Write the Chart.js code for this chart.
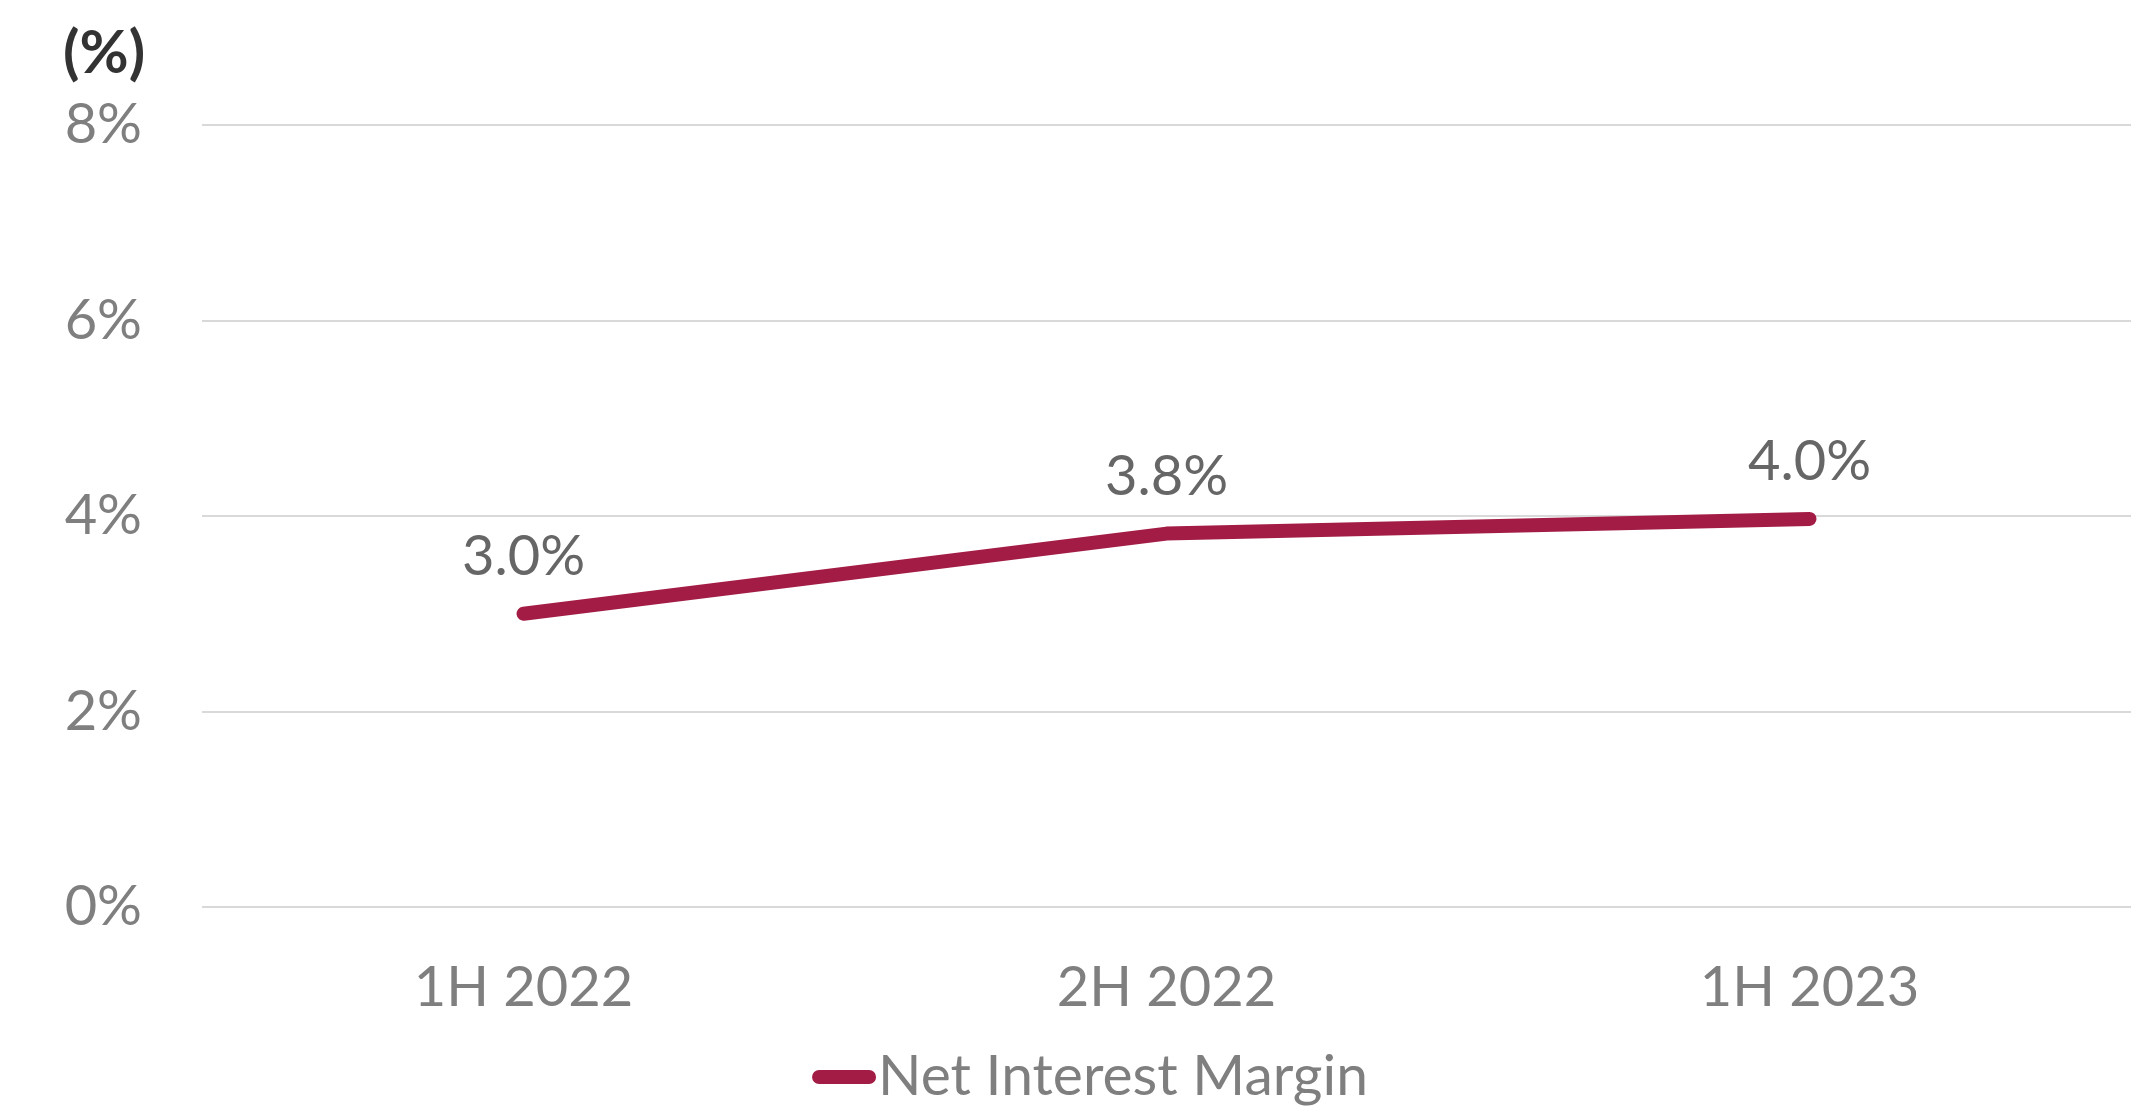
<!DOCTYPE html>
<html>
<head>
<meta charset="utf-8">
<script src="https://cdn.jsdelivr.net/npm/chart.js@4/dist/chart.umd.min.js"></script>
<style>
  html, body { margin: 0; padding: 0; background: #ffffff; }
  #wrap { width: 2152px; height: 1109px; }
</style>
</head>
<body>
<div id="wrap"><canvas id="c" width="2152" height="1109"></canvas></div>
<script>
const categories = ['1H 2022', '2H 2022', '1H 2023'];
const nimValues = [3.0, 3.82, 3.97];
const seriesLabel = 'Net Interest Margin';
const yTickValues = [0, 2, 4, 6, 8];
const unitLabel = '(%)';

const FONT = "Lato, 'Open Sans', sans-serif";
const LINE_COLOR = '#a31c45';

const dataLabelPlugin = {
  id: 'dataLabels',
  afterDatasetsDraw(chart) {
    const ctx = chart.ctx;
    const meta = chart.getDatasetMeta(0);
    ctx.save();
    ctx.font = '56px ' + FONT;
    ctx.fillStyle = '#666666';
    ctx.textAlign = 'center';
    ctx.textBaseline = 'middle';
    meta.data.forEach((pt, i) => {
      const v = chart.data.datasets[0].data[i];
      ctx.fillText(v.toFixed(1) + '%', pt.x, pt.y - 57);
    });
    ctx.restore();
  }
};

const extrasPlugin = {
  id: 'extras',
  afterDraw(chart) {
    const ctx = chart.ctx;
    ctx.save();
    // unit label
    ctx.font = 'bold 60px ' + FONT;
    ctx.fillStyle = '#333333';
    ctx.textAlign = 'left';
    ctx.textBaseline = 'middle';
    ctx.fillText(unitLabel, 63, 54);
    // legend
    const ds = chart.data.datasets[0];
    ctx.font = '57px ' + FONT;
    const tw = ctx.measureText(ds.label).width;
    const sampleW = 64, gap = 2;
    const total = sampleW + gap + tw;
    const cx = 1090;
    const x0 = cx - total / 2;
    const y = 1077;
    ctx.strokeStyle = ds.borderColor;
    ctx.lineWidth = 14;
    ctx.lineCap = 'round';
    ctx.beginPath();
    ctx.moveTo(x0 + 7, y);
    ctx.lineTo(x0 + sampleW - 7, y);
    ctx.stroke();
    ctx.fillStyle = '#7f7f7f';
    ctx.fillText(ds.label, x0 + sampleW + gap, y);
    ctx.restore();
  }
};

new Chart(document.getElementById('c'), {
  type: 'line',
  data: {
    labels: categories,
    datasets: [{
      label: seriesLabel,
      data: nimValues,
      borderColor: LINE_COLOR,
      backgroundColor: LINE_COLOR,
      borderWidth: 14,
      borderCapStyle: 'round',
      borderJoinStyle: 'round',
      pointRadius: 0,
      tension: 0,
      fill: false
    }]
  },
  options: {
    responsive: false,
    devicePixelRatio: 1,
    animation: false,
    layout: { padding: { left: 0, right: 21, top: 125, bottom: 85 } },
    plugins: {
      legend: { display: false },
      title: { display: false },
      tooltip: { enabled: false }
    },
    scales: {
      x: {
        offset: true,
        grid: { display: false, drawTicks: false },
        border: { display: false },
        ticks: {
          color: '#7f7f7f',
          font: { family: FONT, size: 56 },
          padding: 47
        },
        afterFit(scale) { scale.height = 117; }
      },
      y: {
        min: 0,
        max: 8,
        afterBuildTicks(scale) { scale.ticks = yTickValues.map(v => ({ value: v })); },
        grid: { color: '#d9d9d9', lineWidth: 2, drawTicks: false },
        border: { display: false },
        ticks: {
          color: '#7f7f7f',
          font: { family: FONT, size: 56 },
          padding: 60,
          callback: v => v + '%'
        },
        afterFit(scale) { scale.width = 202; }
      }
    }
  },
  plugins: [dataLabelPlugin, extrasPlugin]
});
</script>
</body>
</html>
